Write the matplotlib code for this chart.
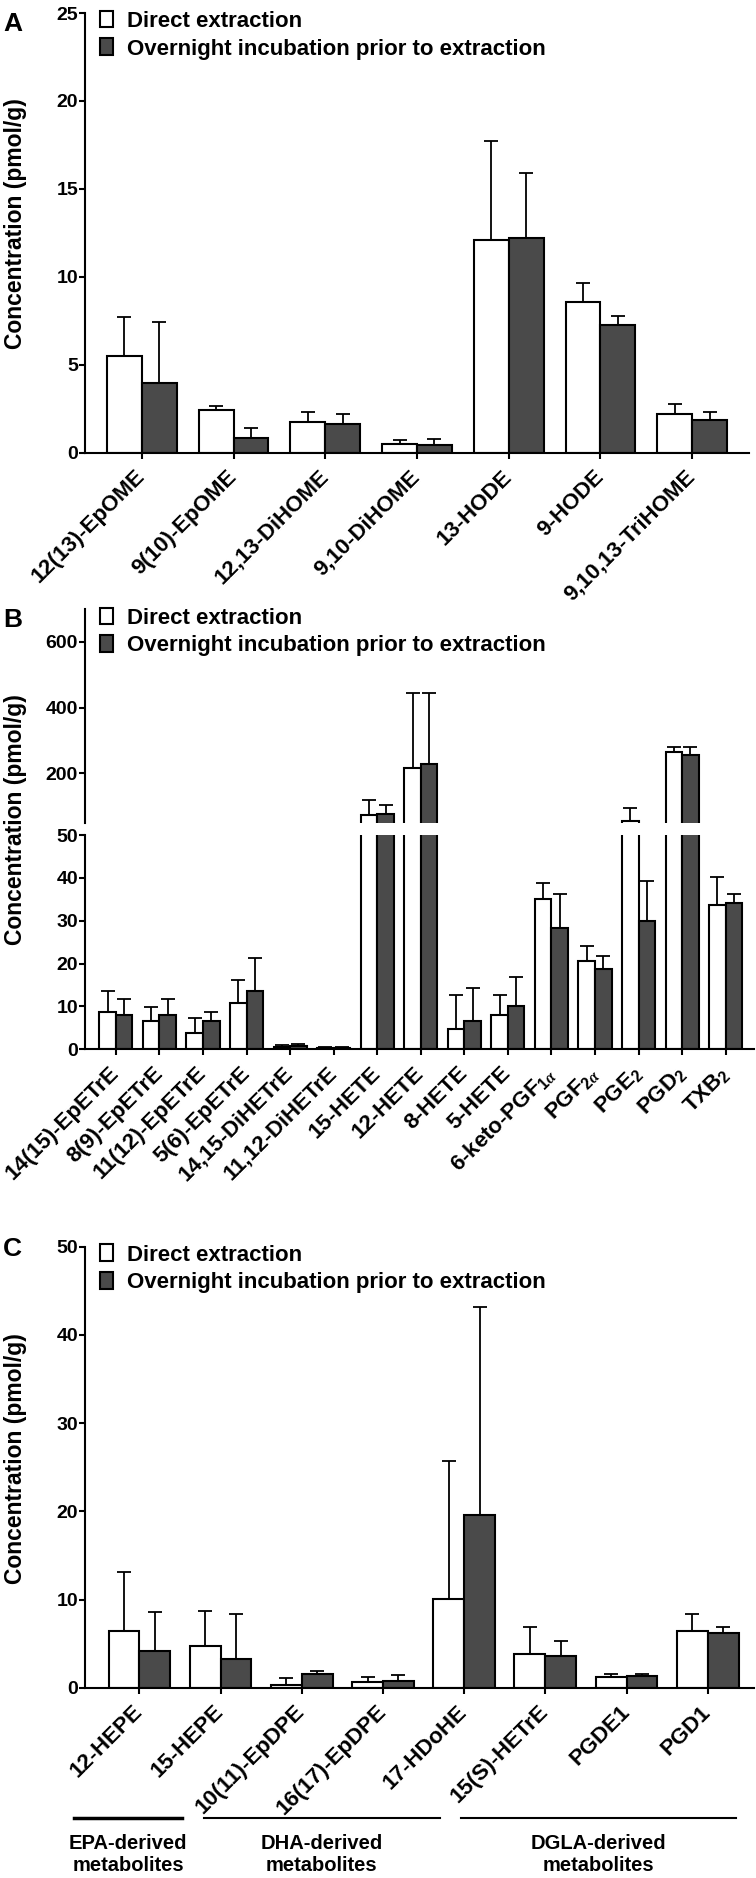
import numpy as np
import matplotlib
matplotlib.use('Agg')
import matplotlib.pyplot as plt
from matplotlib.patches import Patch
from matplotlib import transforms

plt.rcParams['font.family'] = ['Liberation Sans', 'DejaVu Sans']
plt.rcParams['font.weight'] = 'bold'
plt.rcParams['mathtext.fontset'] = 'custom'
plt.rcParams['mathtext.rm'] = 'Liberation Sans'
plt.rcParams['mathtext.it'] = 'Liberation Serif:italic'
plt.rcParams['mathtext.bf'] = 'Liberation Sans:bold'

# ---- data (pmol/g), mean and upper error ----
names_a = ['12(13)-EpOME', '9(10)-EpOME', '12,13-DiHOME', '9,10-DiHOME',
           '13-HODE', '9-HODE', '9,10,13-TriHOME']
direct_a = [5.5, 2.45, 1.72, 0.48, 12.1, 8.55, 2.2]
direct_a_err = [2.2, 0.2, 0.6, 0.24, 5.6, 1.1, 0.55]
over_a = [3.95, 0.82, 1.62, 0.42, 12.2, 7.25, 1.88]
over_a_err = [3.5, 0.6, 0.58, 0.34, 3.7, 0.55, 0.42]

names_b = ['14(15)-EpETrE', '8(9)-EpETrE', '11(12)-EpETrE', '5(6)-EpETrE',
           '14,15-DiHETrE', '11,12-DiHETrE', '15-HETE', '12-HETE', '8-HETE',
           '5-HETE', '6-keto-PGF$_{1\\alpha}$', 'PGF$_{2\\alpha}$', 'PGE$_2$',
           'PGD$_2$', 'TXB$_2$']
direct_b = [8.6, 6.5, 3.9, 10.7, 0.6, 0.3, 72, 216, 4.85, 8.1, 35.1, 20.7, 55, 264, 33.6]
direct_b_err = [5.1, 3.3, 3.4, 5.5, 0.3, 0.2, 46, 229, 7.75, 4.5, 3.6, 3.4, 41, 17, 6.5]
over_b = [8.1, 7.9, 6.5, 13.5, 0.8, 0.4, 76, 228, 6.5, 10.0, 28.3, 18.8, 30.0, 257, 34.1]
over_b_err = [3.7, 3.8, 2.3, 7.7, 0.4, 0.2, 27, 217, 7.7, 6.8, 7.9, 3.0, 9.3, 24, 2.1]

names_c = ['12-HEPE', '15-HEPE', '10(11)-EpDPE', '16(17)-EpDPE', '17-HDoHE',
           '15(S)-HETrE', 'PGDE1', 'PGD1']
direct_c = [6.5, 4.77, 0.38, 0.65, 10.1, 3.82, 1.3, 6.5]
direct_c_err = [6.6, 3.9, 0.77, 0.61, 15.6, 3.13, 0.3, 1.9]
over_c = [4.2, 3.32, 1.53, 0.76, 19.6, 3.63, 1.41, 6.26]
over_c_err = [4.46, 5.08, 0.45, 0.69, 23.6, 1.64, 0.15, 0.69]

group_labels = ['EPA-derived\nmetabolites', 'DHA-derived\nmetabolites',
                'DGLA-derived\nmetabolites']

legend_labels = ['Direct extraction', 'Overnight incubation prior to extraction']

DARK = '#4a4a4a'
BW = 0.38
W, H = 756, 1878


def box(left, top, right, bottom):
    return [left / W, 1 - bottom / H, (right - left) / W, (bottom - top) / H]


def draw_bars(ax, d, de, o, oe):
    x = np.arange(len(d))
    z = np.zeros(len(d))
    ax.errorbar(x - BW / 2, d, yerr=[z, de], fmt='none', ecolor='k',
                elinewidth=1.3, capsize=5, capthick=1.3, zorder=1)
    ax.errorbar(x + BW / 2, o, yerr=[z, oe], fmt='none', ecolor='k',
                elinewidth=1.3, capsize=5, capthick=1.3, zorder=1)
    ax.bar(x - BW / 2, d, BW, color='white', edgecolor='k', linewidth=1.5, zorder=2)
    ax.bar(x + BW / 2, o, BW, color=DARK, edgecolor='k', linewidth=1.5, zorder=2)


def style(ax):
    for s in ['top', 'right']:
        ax.spines[s].set_visible(False)
    for s in ['left', 'bottom']:
        ax.spines[s].set_linewidth(1.5)
    ax.tick_params(direction='out', length=4, width=1.5, labelsize=14, pad=1)


def xlabels(ax, names):
    ax.set_xticks(np.arange(len(names)))
    ax.set_xticklabels(names, rotation=45, ha='right', va='center',
                       rotation_mode='anchor', fontsize=16)
    ax.tick_params(axis='x', pad=11)


def legend(ax):
    handles = [Patch(facecolor='white', edgecolor='k', linewidth=1.5),
               Patch(facecolor=DARK, edgecolor='k', linewidth=1.5)]
    ax.legend(handles, legend_labels, loc='upper left', bbox_to_anchor=(0.023, 1.005),
              frameon=False, borderaxespad=0, borderpad=0, fontsize=16,
              handlelength=0.57, handleheight=0.77, handletextpad=0.65,
              labelspacing=0.3)


fig = plt.figure(figsize=(W / 100, H / 100), dpi=100)

# ---- panel A ----
ax_a = fig.add_axes(box(85, 13, 749, 452.7))
draw_bars(ax_a, direct_a, direct_a_err, over_a, over_a_err)
style(ax_a)
ax_a.set_ylim(0, 25)
ax_a.set_yticks([0, 5, 10, 15, 20, 25])
ax_a.set_xlim(-0.62, 6.62)
xlabels(ax_a, names_a)
legend(ax_a)

# ---- panel B (broken axis) ----
ax_bt = fig.add_axes(box(85, 608.8, 754, 822.7))
ax_bb = fig.add_axes(box(85, 835, 754, 1049.3))
for ax in (ax_bt, ax_bb):
    draw_bars(ax, direct_b, direct_b_err, over_b, over_b_err)
    style(ax)
    ax.set_xlim(-0.71, 14.65)
ax_bt.set_ylim(50, 700)
ax_bt.set_yticks([200, 400, 600])
ax_bt.spines['bottom'].set_visible(False)
ax_bt.set_xticks([])
ax_bb.set_ylim(0, 50)
ax_bb.set_yticks([0, 10, 20, 30, 40, 50])
xlabels(ax_bb, names_b)
legend(ax_bt)

# ---- panel C ----
ax_c = fig.add_axes(box(85, 1246.7, 754, 1688))
draw_bars(ax_c, direct_c, direct_c_err, over_c, over_c_err)
style(ax_c)
ax_c.set_ylim(0, 50)
ax_c.set_yticks([0, 10, 20, 30, 40, 50])
ax_c.set_xlim(-0.67, 7.57)
xlabels(ax_c, names_c)
legend(ax_c)

# group brackets under panel C
tr = transforms.blended_transform_factory(ax_c.transData, ax_c.transAxes)
spans = [(-0.81, 0.53), (0.79, 3.7), (3.96, 7.35)]
widths = [2.5, 1.5, 1.5]
for (x0, x1), lab, lw in zip(spans, group_labels, widths):
    ax_c.plot([x0, x1], [-0.295, -0.295], color='k', lw=lw, transform=tr, clip_on=False)
    ax_c.text((x0 + x1) / 2, -0.378, lab, transform=tr, ha='center', va='center',
              fontsize=14.5, linespacing=1.2)

# y labels and panel letters
for yc in [(13 + 452.7) / 2 - 9, (608.8 + 1049.3) / 2 - 9, (1246.7 + 1688) / 2 - 9]:
    fig.text(16 / W, 1 - yc / H, 'Concentration (pmol/g)', rotation=90,
             ha='center', va='center', fontsize=16.5)
for lab, yt in [('A', 12), ('B', 608), ('C', 1237)]:
    fig.text(3 / W, 1 - yt / H, lab, ha='left', va='top', fontsize=19)

fig.savefig('out.png', dpi=100)
